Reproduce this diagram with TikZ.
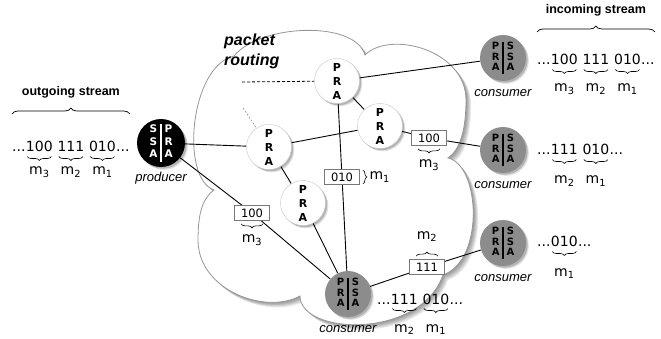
\documentclass[tikz,border=0pt]{standalone}
\usepackage{fontspec}
\setmainfont{DejaVu Sans}
\newfontfamily\helv{Liberation Sans}
\usetikzlibrary{positioning,decorations.pathreplacing,shadows}
\definecolor{consgray}{RGB}{140,140,140}
\definecolor{cloudline}{RGB}{150,150,150}
\definecolor{boxline}{RGB}{120,120,120}
\pgfdeclarelayer{cloudlayer}
\pgfdeclarelayer{linelayer}
\pgfsetlayers{cloudlayer,linelayer,main}
\newcommand{\twocol}[6]{{\setlength\tabcolsep{3.5pt}\setlength\arrayrulewidth{1.1pt}\begin{tabular}{@{}c|c@{}}#1&#2\\#3&#4\\#5&#6\end{tabular}}}
% brace under a bit group and its label
\newcommand{\ubr}[4]{\draw[ubrace] ([xshift=1.5pt,yshift=-4.5pt]#1.base west) -- ([xshift=-1.5pt,yshift=-4.5pt]#1.base east);
  \node[mlab] (#3) at ([yshift=-#4]#1.base) {#2};}
\newcommand{\cloudpath}{(214,190)
  .. controls (180,178) and (190,66) .. (234,56)
  .. controls (260,24) and (355,20) .. (365,55)
  .. controls (390,30) and (466,50) .. (466,100)
  .. controls (466,130) and (460,150) .. (448,158)
  .. controls (480,165) and (485,260) .. (443,275)
  .. controls (420,340) and (300,335) .. (300,296)
  .. controls (265,315) and (198,290) .. (198,240)
  .. controls (198,212) and (203,198) .. (214,190) -- cycle}
\tikzset{
  softshadow/.style={drop shadow={shadow xshift=2.8pt,shadow yshift=-2.8pt,opacity=0.12,fill=black},
                     drop shadow={shadow xshift=1.7pt,shadow yshift=-1.7pt,opacity=0.2,fill=black}},
  router/.style={circle,fill=white,draw=gray!45,line width=0.4pt,minimum size=45pt,inner sep=0pt,align=center,
    font=\fontsize{11}{14}\selectfont\bfseries,softshadow},
  consumernode/.style={circle,fill=consgray,minimum size=46pt,inner sep=0pt,
    font=\fontsize{10}{10.5}\selectfont\bfseries,softshadow},
  producernode/.style={circle,fill=black,text=white,minimum size=48pt,inner sep=0pt,
    font=\fontsize{10.5}{12.5}\selectfont\bfseries,softshadow},
  role/.style={font=\helv\itshape\fontsize{13}{15}\selectfont,inner sep=0pt,anchor=base},
  dig/.style={font=\fontsize{14}{16}\selectfont,inner sep=0pt,anchor=base west},
  mlab/.style={font=\fontsize{14}{16}\selectfont,inner sep=0pt,anchor=base},
  pkt/.style={draw=boxline,fill=white,line width=0.7pt,minimum width=35pt,minimum height=15pt,inner sep=0pt,
    font=\fontsize{11.5}{13}\selectfont},
  link/.style={line width=0.9pt},
  dashline/.style={line width=0.8pt,dash pattern=on 3pt off 2pt},
  dashthin/.style={line width=0.5pt,gray,dash pattern=on 2pt off 1.5pt},
  ubrace/.style={decorate,decoration={brace,mirror,amplitude=4pt},line width=0.6pt},
  obrace/.style={decorate,decoration={brace,amplitude=4pt},line width=0.6pt},
  bigbrace/.style={decorate,decoration={brace,amplitude=6pt},line width=0.7pt},
  cloudshadow/.style={fill=black,opacity=0.08},
  cloudshape/.style={fill=white,draw=cloudline,line width=0.8pt},
  streamtitle/.style={font=\helv\bfseries\fontsize{12.5}{14}\selectfont,inner sep=0pt},
  cloudtitle/.style={font=\helv\bfseries\itshape\fontsize{16}{20}\selectfont,inner sep=0pt,align=left}
}
\begin{document}
\begin{tikzpicture}[x=1pt,y=-1pt]
\useasboundingbox (0,0) rectangle (661,339);

% cloud with soft shadow
\begin{pgfonlayer}{cloudlayer}
\foreach \s in {1,2,3,4,5,6}{
  \fill[cloudshadow,shift={(\s*0.85,\s*0.85)}] \cloudpath;
}
\path[cloudshape] \cloudpath;
\end{pgfonlayer}

\node[cloudtitle,anchor=north west] (ptitle) at (224,34) {packet\\routing};

% nodes
\node[producernode] (prod) at (161,143) {\twocol{S}{P}{S}{R}{A}{A}};
\node[router] (r1) at (337,81) {P\\R\\A};
\node[router] (r2) at (380,126) {P\\R\\A};
\node[router] (r3) at (269,147) {P\\R\\A};
\node[router] (r4) at (303,203) {P\\R\\A};
\node[consumernode] (c0) at (348,294) {\twocol{P}{S}{R}{S}{A}{A}};
\node[consumernode] (ct) at (503,58) {\twocol{P}{S}{R}{S}{A}{A}};
\node[consumernode] (cm) at (503,150) {\twocol{P}{S}{R}{S}{A}{A}};
\node[consumernode] (cb) at (503,243) {\twocol{P}{S}{R}{S}{A}{A}};

\node[role] (lprod) at ([yshift=-14pt]prod.south) {producer};
\node[role] (lc0) at ([yshift=-15pt]c0.south) {consumer};
\node[role] (lct) at ([yshift=-15pt]ct.south) {consumer};
\node[role] (lcm) at ([yshift=-15pt]cm.south) {consumer};
\node[role] (lcb) at ([yshift=-15pt]cb.south) {consumer};

% packets
\node[pkt] (p010) at (342,177) {010};
\node[pkt] (p100a) at (252,213) {100};
\node[pkt] (p100b) at (429,138) {100};
\node[pkt] (p111) at (427,267) {111};

\draw[obrace] ([xshift=3pt,yshift=-1pt]p010.north east) -- ([xshift=3pt,yshift=1pt]p010.south east);
\node[mlab,anchor=west] (m010) at ([xshift=9.5pt]p010.east) {m\textsubscript{1}};
\draw[ubrace] ([xshift=7pt,yshift=-3pt]p100a.south west) -- ([xshift=-7pt,yshift=-3pt]p100a.south east);
\node[mlab] (m100a) at ([yshift=-22pt]p100a.south) {m\textsubscript{3}};
\draw[ubrace] ([xshift=7pt,yshift=-3pt]p100b.south west) -- ([xshift=-7pt,yshift=-3pt]p100b.south east);
\node[mlab] (m100b) at ([yshift=-22pt]p100b.south) {m\textsubscript{3}};
\draw[obrace] ([xshift=7pt,yshift=3pt]p111.north west) -- ([xshift=-7pt,yshift=3pt]p111.north east);
\node[mlab] (m111) at ([yshift=20pt]p111.north) {m\textsubscript{2}};

% connectors
\begin{pgfonlayer}{linelayer}
\draw[link] (prod) -- (r3);
\draw[link] (prod) -- (p100a) -- (c0);
\draw[link] (r3) -- (r2);
\draw[link] (r3) -- (r4);
\draw[link] (r4) -- (c0);
\draw[link] (r1) -- (r2);
\draw[link] (r1) -- (p010) -- (c0);
\draw[link] (r1) -- (ct);
\draw[link] (r2) -- (p100b) -- (cm);
\draw[link] (c0) -- (p111) -- (cb);
\coordinate (d1) at (242,82);
\coordinate (d2) at (243,108);
\draw[dashline] (d1) -- (r1);
\draw[dashthin] (d2) -- (r3);
\end{pgfonlayer}

% outgoing stream
\node[dig] (o0) at (12,152) {...};
\node[dig] (o1) at (o0.base east) {100};
\node[dig] (o2) at ([xshift=4.45pt]o1.base east) {111};
\node[dig] (o3) at ([xshift=4.45pt]o2.base east) {010};
\node[dig] (o4) at (o3.base east) {...};
\ubr{o1}{m\textsubscript{3}}{om3}{23pt}
\ubr{o2}{m\textsubscript{2}}{om2}{23pt}
\ubr{o3}{m\textsubscript{1}}{om1}{23pt}
\draw[bigbrace] ([yshift=38pt]o0.base west) -- ([yshift=38pt]o4.base east)
  node[streamtitle,midway,above=15pt] (otitle) {outgoing stream};

% incoming stream (top consumer)
\node[dig] (i0) at (537,65) {...};
\node[dig] (i1) at (i0.base east) {100};
\node[dig] (i2) at ([xshift=4.45pt]i1.base east) {111};
\node[dig] (i3) at ([xshift=4.45pt]i2.base east) {010};
\node[dig] (i4) at (i3.base east) {...};
\ubr{i1}{m\textsubscript{3}}{im3}{27pt}
\ubr{i2}{m\textsubscript{2}}{im2}{27pt}
\ubr{i3}{m\textsubscript{1}}{im1}{27pt}
\draw[bigbrace] ([yshift=33pt]i0.base west) -- ([yshift=33pt]i4.base east)
  node[streamtitle,midway,above=15pt] (ititle) {incoming stream};

% middle consumer
\node[dig] (s0) at (537,155) {...};
\node[dig] (s1) at (s0.base east) {111};
\node[dig] (s2) at ([xshift=4.45pt]s1.base east) {010};
\node[dig] (s3) at (s2.base east) {...};
\ubr{s1}{m\textsubscript{2}}{sm2}{29pt}
\ubr{s2}{m\textsubscript{1}}{sm1}{29pt}

% bottom-right consumer
\node[dig] (t0) at (537,247) {...};
\node[dig] (t1) at (t0.base east) {010};
\node[dig] (t2) at (t1.base east) {...};
\ubr{t1}{m\textsubscript{1}}{tm1}{29pt}

% bottom consumer
\node[dig] (u0) at (377,304) {...};
\node[dig] (u1) at (u0.base east) {111};
\node[dig] (u2) at ([xshift=4.45pt]u1.base east) {010};
\node[dig] (u3) at (u2.base east) {...};
\ubr{u1}{m\textsubscript{2}}{um2}{28pt}
\ubr{u2}{m\textsubscript{1}}{um1}{28pt}
\end{tikzpicture}
\end{document}
